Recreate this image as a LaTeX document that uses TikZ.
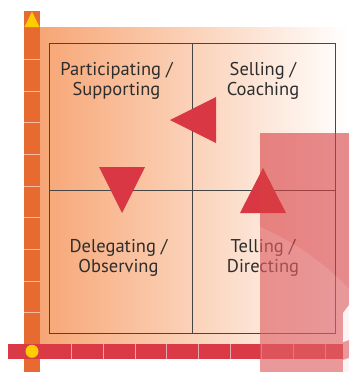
\documentclass[tikz,border=0pt]{standalone}
\usepackage{fontspec}
\setmainfont{PT Sans}
\usetikzlibrary{positioning}

\definecolor{barorange}{RGB}{231,106,48}
\definecolor{barred}{RGB}{217,58,69}
\definecolor{markyellow}{RGB}{255,204,0}
\definecolor{peach}{RGB}{247,166,117}
\definecolor{arrowred}{RGB}{217,55,68}
\definecolor{gridgray}{RGB}{70,70,70}
\definecolor{labelgray}{RGB}{45,45,45}
\definecolor{overlayred}{RGB}{216,62,66}

\tikzset{
  quadtext/.style={align=center, text=labelgray, font=\fontsize{18.5}{19.5}\selectfont},
  gridline/.style={draw=gridgray, line width=0.9pt},
  sepline/.style={draw=white, opacity=0.55, line width=0.8pt}
}

\begin{document}
\begin{tikzpicture}[x=1pt,y=-1pt]
        \useasboundingbox (0,0) rectangle (349,372);

        % Define background
        \shade[left color=peach, right color=white] (40,27.6) rectangle (349,344);

        % Define grid corners
        \coordinate (tl) at (49,43.5);
        \coordinate (br) at (335.5,333.5);
        \coordinate (midtop) at (192,43.5);
        \coordinate (midbot) at (192,333.5);
        \coordinate (midleft) at (49,190.7);
        \coordinate (midright) at (335.5,190.7);
        \draw[gridline] (tl) rectangle (br);
        \draw[gridline] (midtop) -- (midbot);
        \draw[gridline] (midleft) -- (midright);

        % Quadrant labels
        \node[quadtext] (participating) at (116.5,81) {Participating /\\Supporting};
        \node[quadtext] (selling) at (263,81) {Selling /\\Coaching};
        \node[quadtext] (delegating) at (118.5,258) {Delegating /\\Observing};
        \node[quadtext] (telling) at (263,258) {Telling /\\Directing};

        % Arrow heads
        \fill[arrowred] (99,167) -- (145,167) -- (122,213) -- cycle;
        \fill[arrowred] (170,120) -- (216,97) -- (216,143) -- cycle;
        \fill[arrowred] (263,168) -- (286,213) -- (240,213) -- cycle;

        % Vertical axis
        \fill[barorange] (24,11) rectangle (40,372);
        \foreach \i in {0,...,8}
            \draw[sepline] (24,{59.3+31.67*\i}) -- (40,{59.3+31.67*\i});
        \fill[markyellow] (32,11.5) -- (39.5,27) -- (24.5,27) -- cycle;

        % Horizontal axis
        \fill[barred] (8,343.5) rectangle (343,359);
        \foreach \i in {1,...,9}
            \draw[sepline] ({40+31.67*\i},343.5) -- ({40+31.67*\i},359);
        \node[fill = markyellow, circle, inner sep = 0, minimum size = 13pt] (origin) at (32,351.3) {};

        % Overlay
        \fill[overlayred, opacity=0.6] (260,133) rectangle (349,372);
        \begin{scope}
            \clip (260,133) rectangle (349,372);
            \fill[white, opacity=0.12] (150,480) circle (276pt);
        \end{scope}
        \fill[white, opacity=0.9] (343,313) -- (349,305) -- (349,340) -- (343,342) -- cycle;
        \fill[white, opacity=0.9] (343,360) -- (349,358) -- (349,372) -- (343,372) -- cycle;
    \end{tikzpicture}
\end{document}
